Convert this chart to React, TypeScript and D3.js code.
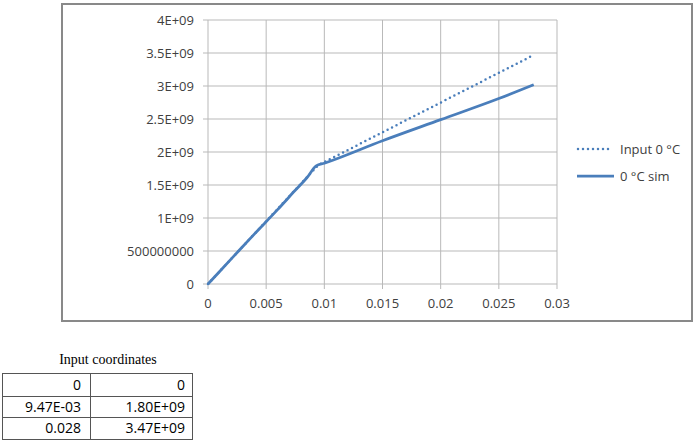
import React from "react";
import * as d3 from "d3";

const inputX = [0, 0.00947, 0.028];
const inputY = [0, 1.8e9, 3.47e9];

const simX = [0, 0.002, 0.004, 0.006, 0.0075, 0.0085, 0.0093, 0.01, 0.015, 0.02, 0.025, 0.028];
const simY = [0, 0.38e9, 0.76e9, 1.13e9, 1.42e9, 1.61e9, 1.79e9, 1.83e9, 2.17e9, 2.49e9, 2.81e9, 3.02e9];

const xTicks = [0, 0.005, 0.01, 0.015, 0.02, 0.025, 0.03];
const xTickLabels = ["0", "0.005", "0.01", "0.015", "0.02", "0.025", "0.03"];
const yTicks = [0, 5e8, 1e9, 1.5e9, 2e9, 2.5e9, 3e9, 3.5e9, 4e9];
const yTickLabels = ["0", "500000000", "1E+09", "1.5E+09", "2E+09", "2.5E+09", "3E+09", "3.5E+09", "4E+09"];

const legendLabels = ["Input 0 °C", "0 °C sim"];

const tableTitle = "Input coordinates";
const tableCol1 = ["0", "9.47E-03", "0.028"];
const tableCol2 = ["0", "1.80E+09", "3.47E+09"];

const BLUE = "#4a7ebb";
const GRID = "#b9b9b9";
const FONT = "'Open Sans', sans-serif";

export default function App() {
  const x = d3.scaleLinear().domain([0, 0.03]).range([208, 557]);
  const y = d3.scaleLinear().domain([0, 4e9]).range([284, 20]);

  const line = d3
    .line<[number, number]>()
    .x((d) => x(d[0]))
    .y((d) => y(d[1]))
    .curve(d3.curveMonotoneX);

  const inputLine = d3
    .line<[number, number]>()
    .x((d) => x(d[0]))
    .y((d) => y(d[1]));

  const inputPts = inputX.map((v, i) => [v, inputY[i]] as [number, number]);
  const simPts = simX.map((v, i) => [v, simY[i]] as [number, number]);

  const rowTops = [373, 396, 417];
  const rowBottom = 439;

  return (
    <svg
      width={700}
      height={445}
      style={{ position: "absolute", left: 0, top: 0, background: "#fff" }}
    >
      {/* chart outer border */}
      <rect x={62} y={4} width={630} height={317} fill="#fff" stroke="#898989" strokeWidth={2} />

      {/* gridlines */}
      {yTicks.map((t, i) => (
        <line key={"gy" + i} x1={203} x2={x(0.03)} y1={y(t)} y2={y(t)} stroke={GRID} strokeWidth={1} />
      ))}
      {xTicks.map((t, i) => (
        <line key={"gx" + i} x1={x(t)} x2={x(t)} y1={y(4e9)} y2={y(0) + 5} stroke={GRID} strokeWidth={1} />
      ))}

      {/* y tick labels */}
      {yTicks.map((t, i) => (
        <text
          key={"yl" + i}
          x={194}
          y={y(t)}
          dy="0.35em"
          textAnchor="end"
          fontFamily={FONT}
          fontSize={13}
          fill="#404040"
        >
          {yTickLabels[i]}
        </text>
      ))}
      {/* x tick labels */}
      {xTicks.map((t, i) => (
        <text
          key={"xl" + i}
          x={x(t)}
          y={308}
          textAnchor="middle"
          fontFamily={FONT}
          fontSize={13}
          fill="#404040"
        >
          {xTickLabels[i]}
        </text>
      ))}

      {/* series */}
      <path
        d={inputLine(inputPts) || ""}
        fill="none"
        stroke={BLUE}
        strokeWidth={2.5}
        strokeDasharray="0 5"
        strokeLinecap="round"
      />
      <path
        d={line(simPts) || ""}
        fill="none"
        stroke={BLUE}
        strokeWidth={2.75}
        strokeLinejoin="round"
      />

      {/* legend */}
      <line x1={578} x2={613} y1={149} y2={149} stroke={BLUE} strokeWidth={2.5} strokeDasharray="0 5" strokeLinecap="round" />
      <text x={620} y={149} dy="0.35em" fontFamily={FONT} fontSize={13} fill="#404040">
        {legendLabels[0]}
      </text>
      <line x1={577} x2={614} y1={176} y2={176} stroke={BLUE} strokeWidth={2.75} />
      <text x={620} y={176} dy="0.35em" fontFamily={FONT} fontSize={13} fill="#404040">
        {legendLabels[1]}
      </text>

      {/* table */}
      <text x={108} y={364} textAnchor="middle" fontFamily="'Liberation Serif', 'Times New Roman', serif" fontSize={14} fill="#000">
        {tableTitle}
      </text>
      <rect x={2.5} y={373.5} width={190} height={rowBottom - 373} fill="none" stroke="#555" strokeWidth={1} />
      <line x1={90.5} x2={90.5} y1={373} y2={rowBottom} stroke="#555" strokeWidth={1} />
      {rowTops.slice(1).map((r, i) => (
        <line key={"rl" + i} x1={2} x2={193} y1={r + 0.5} y2={r + 0.5} stroke="#555" strokeWidth={1} />
      ))}
      {tableCol1.map((v, i) => {
        const top = rowTops[i];
        const bot = i < 2 ? rowTops[i + 1] : rowBottom;
        return (
          <text key={"c1" + i} x={81} y={(top + bot) / 2} dy="0.38em" textAnchor="end" fontFamily={FONT} fontSize={14} fill="#000">
            {v}
          </text>
        );
      })}
      {tableCol2.map((v, i) => {
        const top = rowTops[i];
        const bot = i < 2 ? rowTops[i + 1] : rowBottom;
        return (
          <text key={"c2" + i} x={185} y={(top + bot) / 2} dy="0.38em" textAnchor="end" fontFamily={FONT} fontSize={14} fill="#000">
            {v}
          </text>
        );
      })}
    </svg>
  );
}
